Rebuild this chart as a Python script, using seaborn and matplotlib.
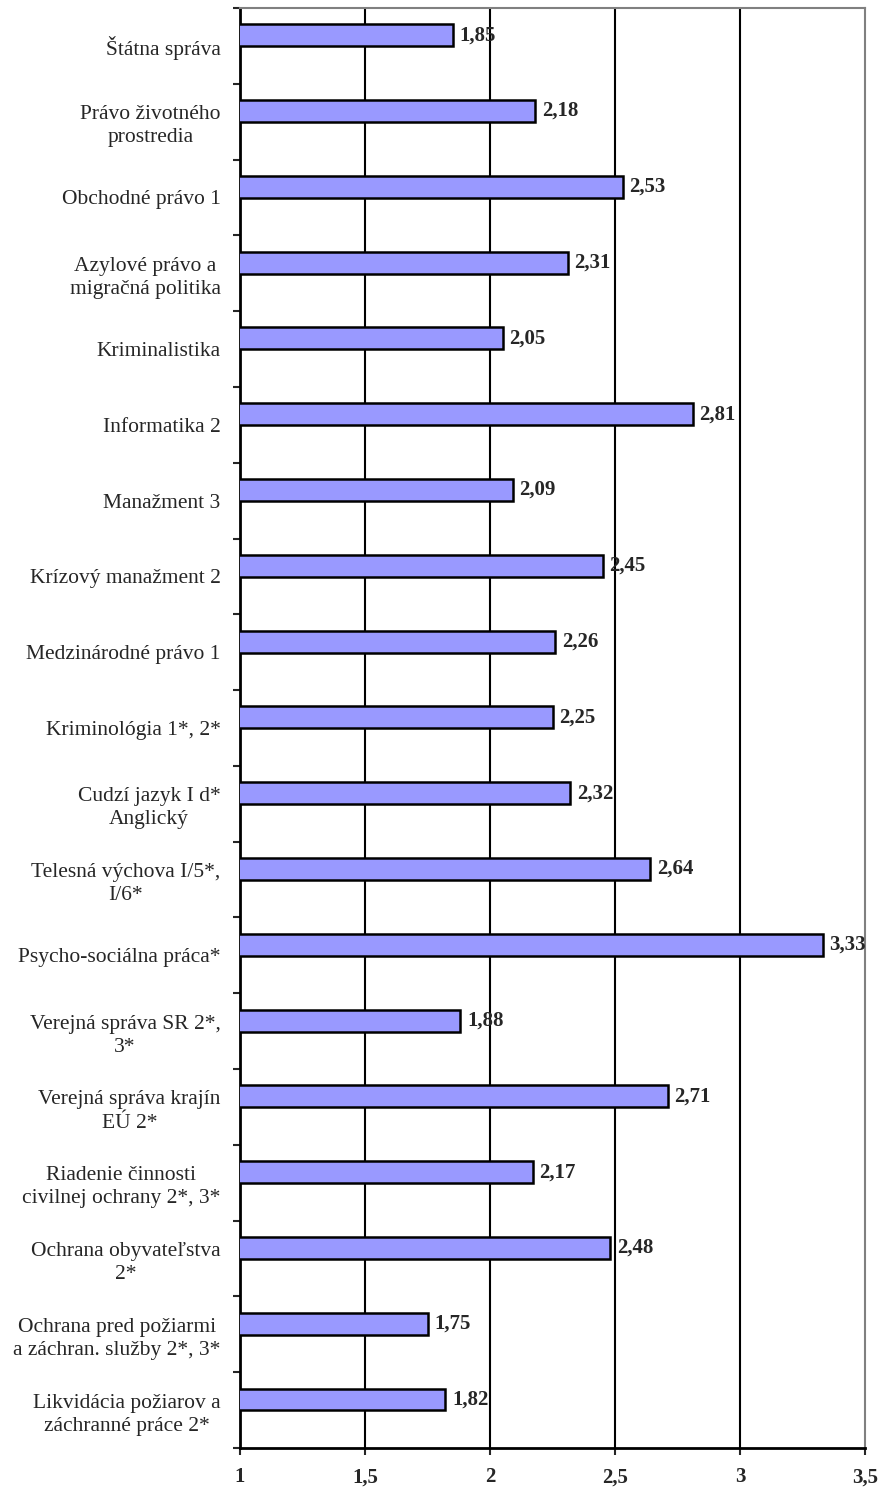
import matplotlib
matplotlib.use("Agg")
import matplotlib.pyplot as plt
import seaborn as sns
import pandas as pd
import numpy as np

categories = [
    "Štátna správa",
    "Právo životného\nprostredia",
    "Obchodné právo 1",
    "Azylové právo a\nmigračná politika",
    "Kriminalistika",
    "Informatika 2",
    "Manažment 3",
    "Krízový manažment 2",
    "Medzinárodné právo 1",
    "Kriminológia 1*, 2*",
    "Cudzí jazyk I d*\nAnglický",
    "Telesná výchova I/5*,\nI/6*",
    "Psycho-sociálna práca*",
    "Verejná správa SR 2*,\n3*",
    "Verejná správa krajín\nEÚ 2*",
    "Riadenie činnosti\ncivilnej ochrany 2*, 3*",
    "Ochrana obyvateľstva\n2*",
    "Ochrana pred požiarmi\na záchran. služby 2*, 3*",
    "Likvidácia požiarov a\nzáchranné práce 2*",
]
values = [1.85, 2.18, 2.53, 2.31, 2.05, 2.81, 2.09, 2.45, 2.26, 2.25,
          2.32, 2.64, 3.33, 1.88, 2.71, 2.17, 2.48, 1.75, 1.82]
xticks = [1, 1.5, 2, 2.5, 3, 3.5]
xtick_labels = ["1", "1,5", "2", "2,5", "3", "3,5"]

df = pd.DataFrame({"cat": categories, "val": values})

sns.set_style("white")
plt.rcParams["font.family"] = ["Liberation Serif", "DejaVu Serif"]

fig = plt.figure(figsize=(8.82, 14.92), dpi=100)
ax = fig.add_axes([240/882, 1 - 1448/1492, (865-240)/882, (1448-8)/1492])

sns.barplot(data=df, x="val", y="cat", orient="h", color="#9999FF",
            saturation=1, width=0.29, edgecolor="black", linewidth=1.8, ax=ax, zorder=3)

off = 0.14
n = len(categories)
ax.set_xlim(1, 3.5)
ax.set_ylim(n - 0.5 + off, -0.5 + off)

# category boundary ticks
ax.set_yticks([k - 0.5 + off for k in range(n + 1)])
ax.set_yticklabels([])
ax.tick_params(axis="y", which="major", length=5, width=1.5, direction="out", left=True)
# labels at category centres
ax.set_yticks([k + off for k in range(n)], minor=True)
ax.set_yticklabels(categories, minor=True, fontsize=15.5, ha="right", multialignment="center",
                   linespacing=1.3)
ax.tick_params(axis="y", which="minor", length=0, pad=14)
ax.set_ylabel("")
ax.set_xlabel("")

ax.set_xticks(xticks)
ax.set_xticklabels(xtick_labels, fontsize=15, fontweight="bold")
ax.tick_params(axis="x", length=5, width=1.5, direction="out", bottom=True, pad=9)

for gx in [1.5, 2, 2.5, 3]:
    ax.axvline(gx, color="black", linewidth=1.5, zorder=1)

for s in ["left", "bottom"]:
    ax.spines[s].set_color("black")
    ax.spines[s].set_linewidth(2)
for s in ["top", "right"]:
    ax.spines[s].set_color("#808080")
    ax.spines[s].set_linewidth(1.5)
    ax.spines[s].set_visible(True)

for i, v in enumerate(values):
    ax.text(v + 0.028, i, f"{v:.2f}".replace(".", ","), va="center", ha="left",
            fontsize=15, fontweight="bold", zorder=4)

fig.savefig("out.png", dpi=100)
